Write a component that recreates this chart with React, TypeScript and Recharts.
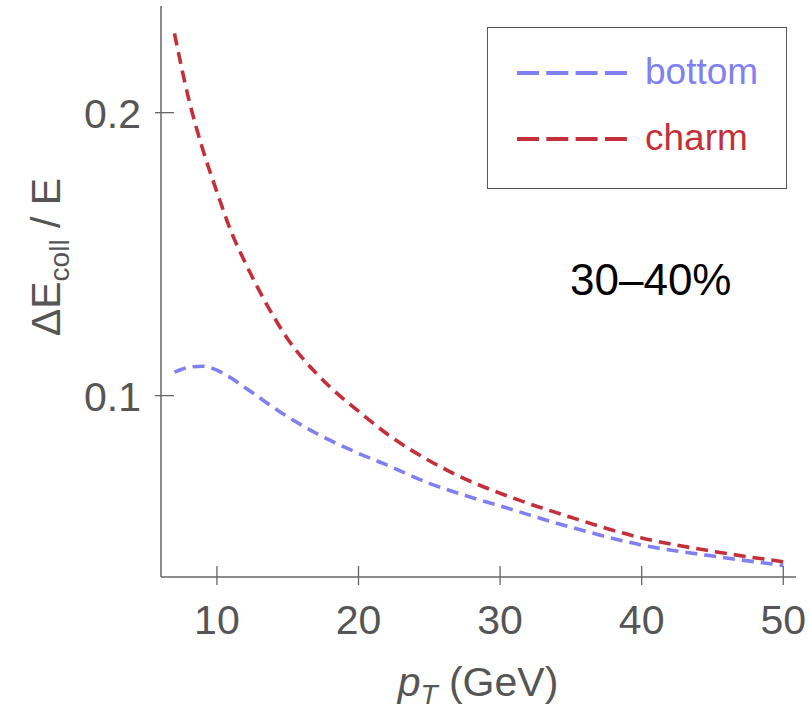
import React from 'react'
import { LineChart, Line, XAxis, YAxis } from 'recharts'

// pT grid (GeV) and the two curves
const ptValues = [7, 8, 9, 10, 11, 12, 13, 14, 15, 16, 17, 18, 20, 22, 25, 28, 30, 35, 40, 45, 50]
const bottomValues = [
  0.1083, 0.11, 0.1104, 0.109, 0.1062, 0.1028, 0.0993, 0.0958, 0.0925, 0.0895, 0.0867, 0.0842,
  0.0796, 0.0755, 0.069, 0.064, 0.061, 0.0535, 0.0472, 0.0433, 0.04,
]
const charmValues = [
  0.228, 0.205, 0.187, 0.172, 0.158, 0.147, 0.137, 0.128, 0.12, 0.1135, 0.108, 0.103, 0.0945,
  0.0865, 0.077, 0.0695, 0.0655, 0.057, 0.0497, 0.045, 0.0413,
]
const xTicks = [10, 20, 30, 40, 50]
const yTicks = [0.1, 0.2]
const seriesNames = ['bottom', 'charm']

const data = ptValues.map((pt, i) => ({ pt, bottom: bottomValues[i], charm: charmValues[i] }))

const BLUE = '#8080f2'
const RED = '#c4303a'
const FRAME = '#666'
const TEXT = '#555'
const FONT = 'Liberation Sans, Arial, sans-serif'

const XTick = ({ x, y, payload }: any) => (
  <g>
    <line x1={x} x2={x} y1={y - 11} y2={y + 8} stroke={FRAME} strokeWidth={1.3} />
    <text x={x} y={y + 57} textAnchor="middle" fontSize={41} fill={TEXT} fontFamily={FONT}>
      {payload.value}
    </text>
  </g>
)

const YTick = ({ x, y, payload }: any) => (
  <g>
    <line x1={x - 6} x2={x + 13} y1={y} y2={y} stroke={FRAME} strokeWidth={1.3} />
    <text x={x - 20} y={y + 15} textAnchor="end" fontSize={41} fill={TEXT} fontFamily={FONT}>
      {payload.value}
    </text>
  </g>
)

const YLabel = () => (
  <text
    transform="translate(60, 257) rotate(-90)"
    textAnchor="middle"
    fontSize={41}
    fill={TEXT}
    fontFamily={FONT}
  >
    ΔE
    <tspan fontSize={28} dy={9}>coll</tspan>
    <tspan dy={-9}> / E</tspan>
  </text>
)

const XLabel = () => (
  <text x={478} y={696} textAnchor="middle" fontSize={41} fill={TEXT} fontFamily={FONT}>
    <tspan fontStyle="italic">p</tspan>
    <tspan fontStyle="italic" fontSize={28} dy={8}>T</tspan>
    <tspan dy={-8}> (GeV)</tspan>
  </text>
)

const LegendBox = () => (
  <div
    style={{
      position: 'absolute',
      left: 487,
      top: 27,
      width: 300,
      height: 162,
      border: '1.5px solid #555',
      background: '#fff',
      boxSizing: 'border-box',
      fontFamily: FONT,
      fontSize: 37,
    }}
  >
    {seriesNames.map((name, i) => {
      const color = i === 0 ? BLUE : RED
      return (
        <div key={name} style={{ position: 'absolute', left: 28, top: 24 + i * 66, display: 'flex', alignItems: 'center' }}>
          <svg width={112} height={40}>
            <line x1={1} x2={111} y1={21} y2={21} stroke={color} strokeWidth={4} strokeDasharray="22 7.3" />
          </svg>
          <span style={{ color, marginLeft: 17, lineHeight: '40px' }}>{name}</span>
        </div>
      )
    })}
  </div>
)

export default function App() {
  return (
    <div style={{ position: 'absolute', left: 0, top: 0, width: 810, height: 713, background: '#fff' }}>
      <LineChart width={810} height={713} data={data} margin={{ top: 6, right: 14, left: 0, bottom: 0 }}>
        <XAxis
          dataKey="pt"
          type="number"
          domain={[6.05, 50.9]}
          ticks={xTicks}
          allowDataOverflow
          height={136}
          tickSize={0}
          tickMargin={0}
          tickLine={false}
          axisLine={{ stroke: FRAME, strokeWidth: 1.5 }}
          tick={<XTick />}
          label={<XLabel />}
        />
        <XAxis xAxisId="top" orientation="top" dataKey="pt" type="number" domain={[6.05, 50.9]} height={0} tick={false} tickLine={false} axisLine={{ stroke: FRAME, strokeWidth: 1.5 }} />
        <YAxis
          type="number"
          domain={[0.0359, 0.2377]}
          ticks={yTicks}
          allowDataOverflow
          width={161}
          tickSize={0}
          tickMargin={0}
          tickLine={false}
          axisLine={{ stroke: FRAME, strokeWidth: 1.5 }}
          tick={<YTick />}
          label={<YLabel />}
        />
        <YAxis yAxisId="right" orientation="right" type="number" domain={[0.0359, 0.2377]} width={0} tick={false} tickLine={false} axisLine={{ stroke: FRAME, strokeWidth: 1.5 }} />
        <Line
          dataKey="bottom"
          name={seriesNames[0]}
          type="monotone"
          stroke={BLUE}
          strokeWidth={3.6}
          strokeDasharray="12 7"
          dot={false}
          isAnimationActive={false}
        />
        <Line
          dataKey="charm"
          name={seriesNames[1]}
          type="monotone"
          stroke={RED}
          strokeWidth={3.6}
          strokeDasharray="12 7"
          dot={false}
          isAnimationActive={false}
        />
      </LineChart>
      <LegendBox />
      <div
        style={{
          position: 'absolute',
          left: 570,
          top: 255,
          fontFamily: FONT,
          fontSize: 44,
          color: '#000',
          lineHeight: '50px',
        }}
      >
        30–40%
      </div>
    </div>
  )
}
